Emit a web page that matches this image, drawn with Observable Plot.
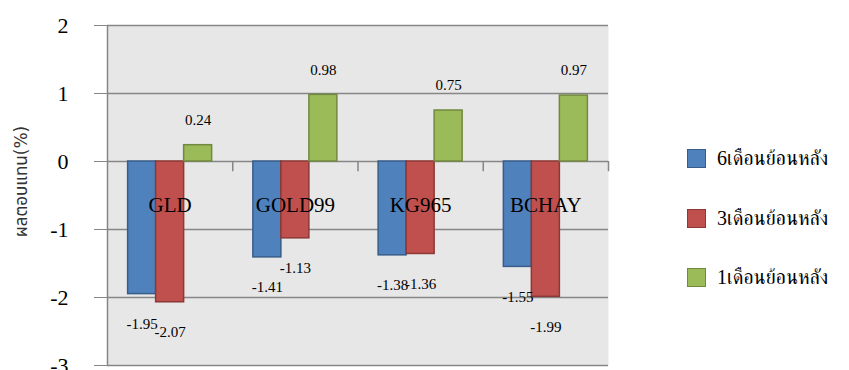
<!DOCTYPE html>
<html>
<head>
<meta charset="utf-8">
<script src="https://cdn.jsdelivr.net/npm/d3@7"></script>
<script src="https://cdn.jsdelivr.net/npm/@observablehq/plot@0.6"></script>
<style>
  html, body { margin: 0; padding: 0; background: #fff; }
  #wrap { position: relative; width: 849px; height: 370px; overflow: hidden; }
  #legend { position: absolute; left: 687px; top: 149px; font-family: "Liberation Serif", "Norasi", "FreeSerif", "Noto Serif Thai", "Noto Sans Thai", serif; font-size: 20px; color: #000; }
  .item { position: absolute; left: 0; white-space: nowrap; height: 20px; }
  .sw { position: absolute; left: 0; top: 0; width: 17px; height: 17px; border: 1.5px solid; }
  .lb { position: absolute; left: 30px; top: -4px; line-height: 26px; }
</style>
</head>
<body>
<div id="wrap"></div>
<script>
const categories = ["GLD", "GOLD99", "KG965", "BCHAY"];
const seriesNames = ["6เดือนย้อนหลัง", "3เดือนย้อนหลัง", "1เดือนย้อนหลัง"];
const m6 = [-1.95, -1.41, -1.38, -1.55];
const m3 = [-2.07, -1.13, -1.36, -1.99];
const m1 = [0.24, 0.98, 0.75, 0.97];
const yTicks = [-3, -2, -1, 0, 1, 2];
const yTitle = "ผลตอบแทน(%)";

const fills = ["#4f81bd", "#c0504d", "#9bbb59"];
const strokes = ["#385d8a", "#8c3836", "#71893f"];

const seriesValues = [m6, m3, m1];
const data = [];
categories.forEach((c, i) => {
  seriesValues.forEach((vals, j) => {
    data.push({cat: c, i, j, series: seriesNames[j], value: vals[i]});
  });
});

const barW = 0.2236; // bar width as a fraction of a category band
const cx = d => d.i + (d.j - 1) * barW;

const serif = "Liberation Serif, Times New Roman, serif";
const grid = "#868686";

const plot = Plot.plot({
  width: 849,
  height: 370,
  marginLeft: 107,
  marginRight: 241,
  marginTop: 25,
  marginBottom: 5,
  style: {fontFamily: serif, fontSize: "22px", color: grid, background: "transparent", overflow: "visible"},
  x: {type: "linear", domain: [-0.5, categories.length - 0.5], axis: null},
  y: {domain: [-3, 2], ticks: yTicks, tickSize: 13, tickFormat: () => "", label: null},
  marks: [
    Plot.frame({fill: "#e7e7e7", stroke: null}),
    Plot.ruleY(yTicks, {stroke: grid, strokeWidth: 1.5}),
    Plot.ruleX([-0.5], {stroke: grid, strokeWidth: 1.5}),
    Plot.ruleX(categories.map((_, i) => i + 0.5), {y1: 0, y2: -0.15, stroke: grid, strokeWidth: 1.5}),
    Plot.rectY(data, {
      x1: d => cx(d) - barW / 2,
      x2: d => cx(d) + barW / 2,
      y1: 0,
      y2: "value",
      fill: d => fills[d.j],
      stroke: d => strokes[d.j],
      strokeWidth: 1.5
    }),
    Plot.text(yTicks, {x: -0.5, y: d => d, dx: -39, textAnchor: "end", text: d => String(d), fontSize: 22, fontFamily: serif, fill: "#000"}),
    Plot.text(categories, {x: (d, i) => i, y: 0, dy: 44, text: d => d, fontSize: 21, fontFamily: serif, fill: "#000"}),
    Plot.text(data.filter(d => d.value >= 0), {x: cx, y: "value", dy: -25, text: d => d.value.toFixed(2), fontSize: 15, fontFamily: serif, fill: "#000"}),
    Plot.text(data.filter(d => d.value < 0), {x: cx, y: "value", dy: 30, text: d => d.value.toFixed(2), fontSize: 15, fontFamily: serif, fill: "#000"}),
    Plot.text([yTitle], {frameAnchor: "left", textAnchor: "middle", dx: -86, dy: -14, rotate: -90, text: d => d, fontSize: 17, fontFamily: "DejaVu Sans, Noto Sans Thai, sans-serif", fill: "#333"})
  ]
});

const wrap = document.getElementById("wrap");
wrap.appendChild(plot);

const legend = document.createElement("div");
legend.id = "legend";
seriesNames.forEach((name, j) => {
  const item = document.createElement("div");
  item.className = "item";
  item.style.top = (j * 59.5) + "px";
  const sw = document.createElement("div");
  sw.className = "sw";
  sw.style.background = fills[j];
  sw.style.borderColor = strokes[j];
  const lb = document.createElement("div");
  lb.className = "lb";
  lb.textContent = name;
  item.appendChild(sw);
  item.appendChild(lb);
  legend.appendChild(item);
});
wrap.appendChild(legend);
</script>
</body>
</html>
